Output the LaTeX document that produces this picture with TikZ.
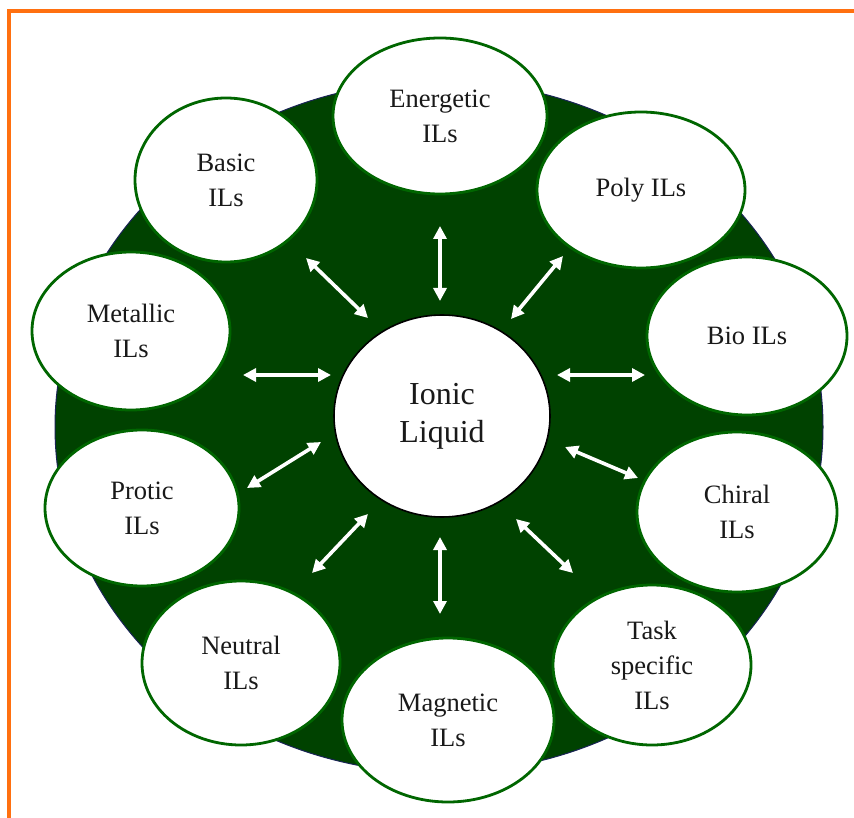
\documentclass[tikz,border=0pt]{standalone}
\usepackage{fontspec}
\setmainfont{Liberation Serif}
\usetikzlibrary{shapes.geometric,arrows.meta}
\definecolor{bgdark}{RGB}{0,66,0}
\definecolor{ringgreen}{RGB}{0,102,0}
\definecolor{borderorange}{RGB}{255,112,16}
\definecolor{edgenavy}{RGB}{25,35,85}
\definecolor{txt}{RGB}{25,25,25}
\tikzset{
  sat/.style={ellipse, draw=ringgreen, line width=2.8pt, fill=white, inner sep=0pt,
    align=center, text=txt, font=\fontsize{26.5}{35}\selectfont},
  hub/.style={ellipse, draw=black, line width=1.6pt, fill=white, inner sep=0pt,
    align=center, text=txt, font=\fontsize{32}{38}\selectfont},
  link/.style={draw=white, line width=3.6pt,
    {Triangle[length=13pt,width=13pt]}-{Triangle[length=13pt,width=13pt]}}
}
\begin{document}
\begin{tikzpicture}[x=1pt,y=-1pt]
\useasboundingbox (0,0) rectangle (854,818);
% orange frame (open at right and bottom)
\draw[borderorange, line width=4pt] (9,818) -- (9,11) -- (854,11);
% dark backdrop
\node[ellipse, fill=bgdark, draw=edgenavy, line width=1pt, minimum width=768pt, minimum height=692pt, inner sep=0pt] (back) at (439,427) {};
% satellites
\node[sat, minimum width=214pt, minimum height=156pt] (energetic) at (440,116) {Energetic\\ILs};
\node[sat, minimum width=182pt, minimum height=164pt] (basic) at (226,180) {Basic\\ILs};
\node[sat, minimum width=208pt, minimum height=156pt] (poly) at (641,190) {Poly ILs};
\node[sat, minimum width=198pt, minimum height=158pt] (metallic) at (131,331) {Metallic\\ILs};
\node[sat, minimum width=200pt, minimum height=158pt] (bio) at (747,336) {Bio ILs};
\node[sat, minimum width=194pt, minimum height=156pt] (protic) at (142,508) {Protic\\ILs};
\node[sat, minimum width=200pt, minimum height=160pt] (chiral) at (737,512) {Chiral\\ILs};
\node[sat, minimum width=198pt, minimum height=164pt] (neutral) at (241,663) {Neutral\\ILs};
\node[sat, minimum width=198pt, minimum height=160pt] (task) at (652,665) {Task\\specific\\ILs};
\node[sat, minimum width=212pt, minimum height=164pt] (magnetic) at (448,720) {Magnetic\\ILs};
% hub
\node[hub, minimum width=216pt, minimum height=202pt] (ionic) at (442,416) {Ionic\\Liquid};
% arrow end points
\coordinate (e1) at (440,226); \coordinate (e2) at (440,301);
\coordinate (b1) at (306,258); \coordinate (b2) at (368,318);
\coordinate (p1) at (563,256); \coordinate (p2) at (511,319);
\coordinate (m1) at (243,375); \coordinate (m2) at (331,375);
\coordinate (bi1) at (557,375); \coordinate (bi2) at (645,375);
\coordinate (pr1) at (321,442); \coordinate (pr2) at (247,488);
\coordinate (c1) at (565,447); \coordinate (c2) at (638,478);
\coordinate (n1) at (368,514); \coordinate (n2) at (312,573);
\coordinate (g1) at (440,537); \coordinate (g2) at (440,614);
\coordinate (t1) at (516,519); \coordinate (t2) at (573,573);
\draw[link] (e1) -- (e2);
\draw[link] (b1) -- (b2);
\draw[link] (p1) -- (p2);
\draw[link] (m1) -- (m2);
\draw[link] (bi1) -- (bi2);
\draw[link] (pr1) -- (pr2);
\draw[link] (c1) -- (c2);
\draw[link] (n1) -- (n2);
\draw[link] (g1) -- (g2);
\draw[link] (t1) -- (t2);
\end{tikzpicture}
\end{document}
